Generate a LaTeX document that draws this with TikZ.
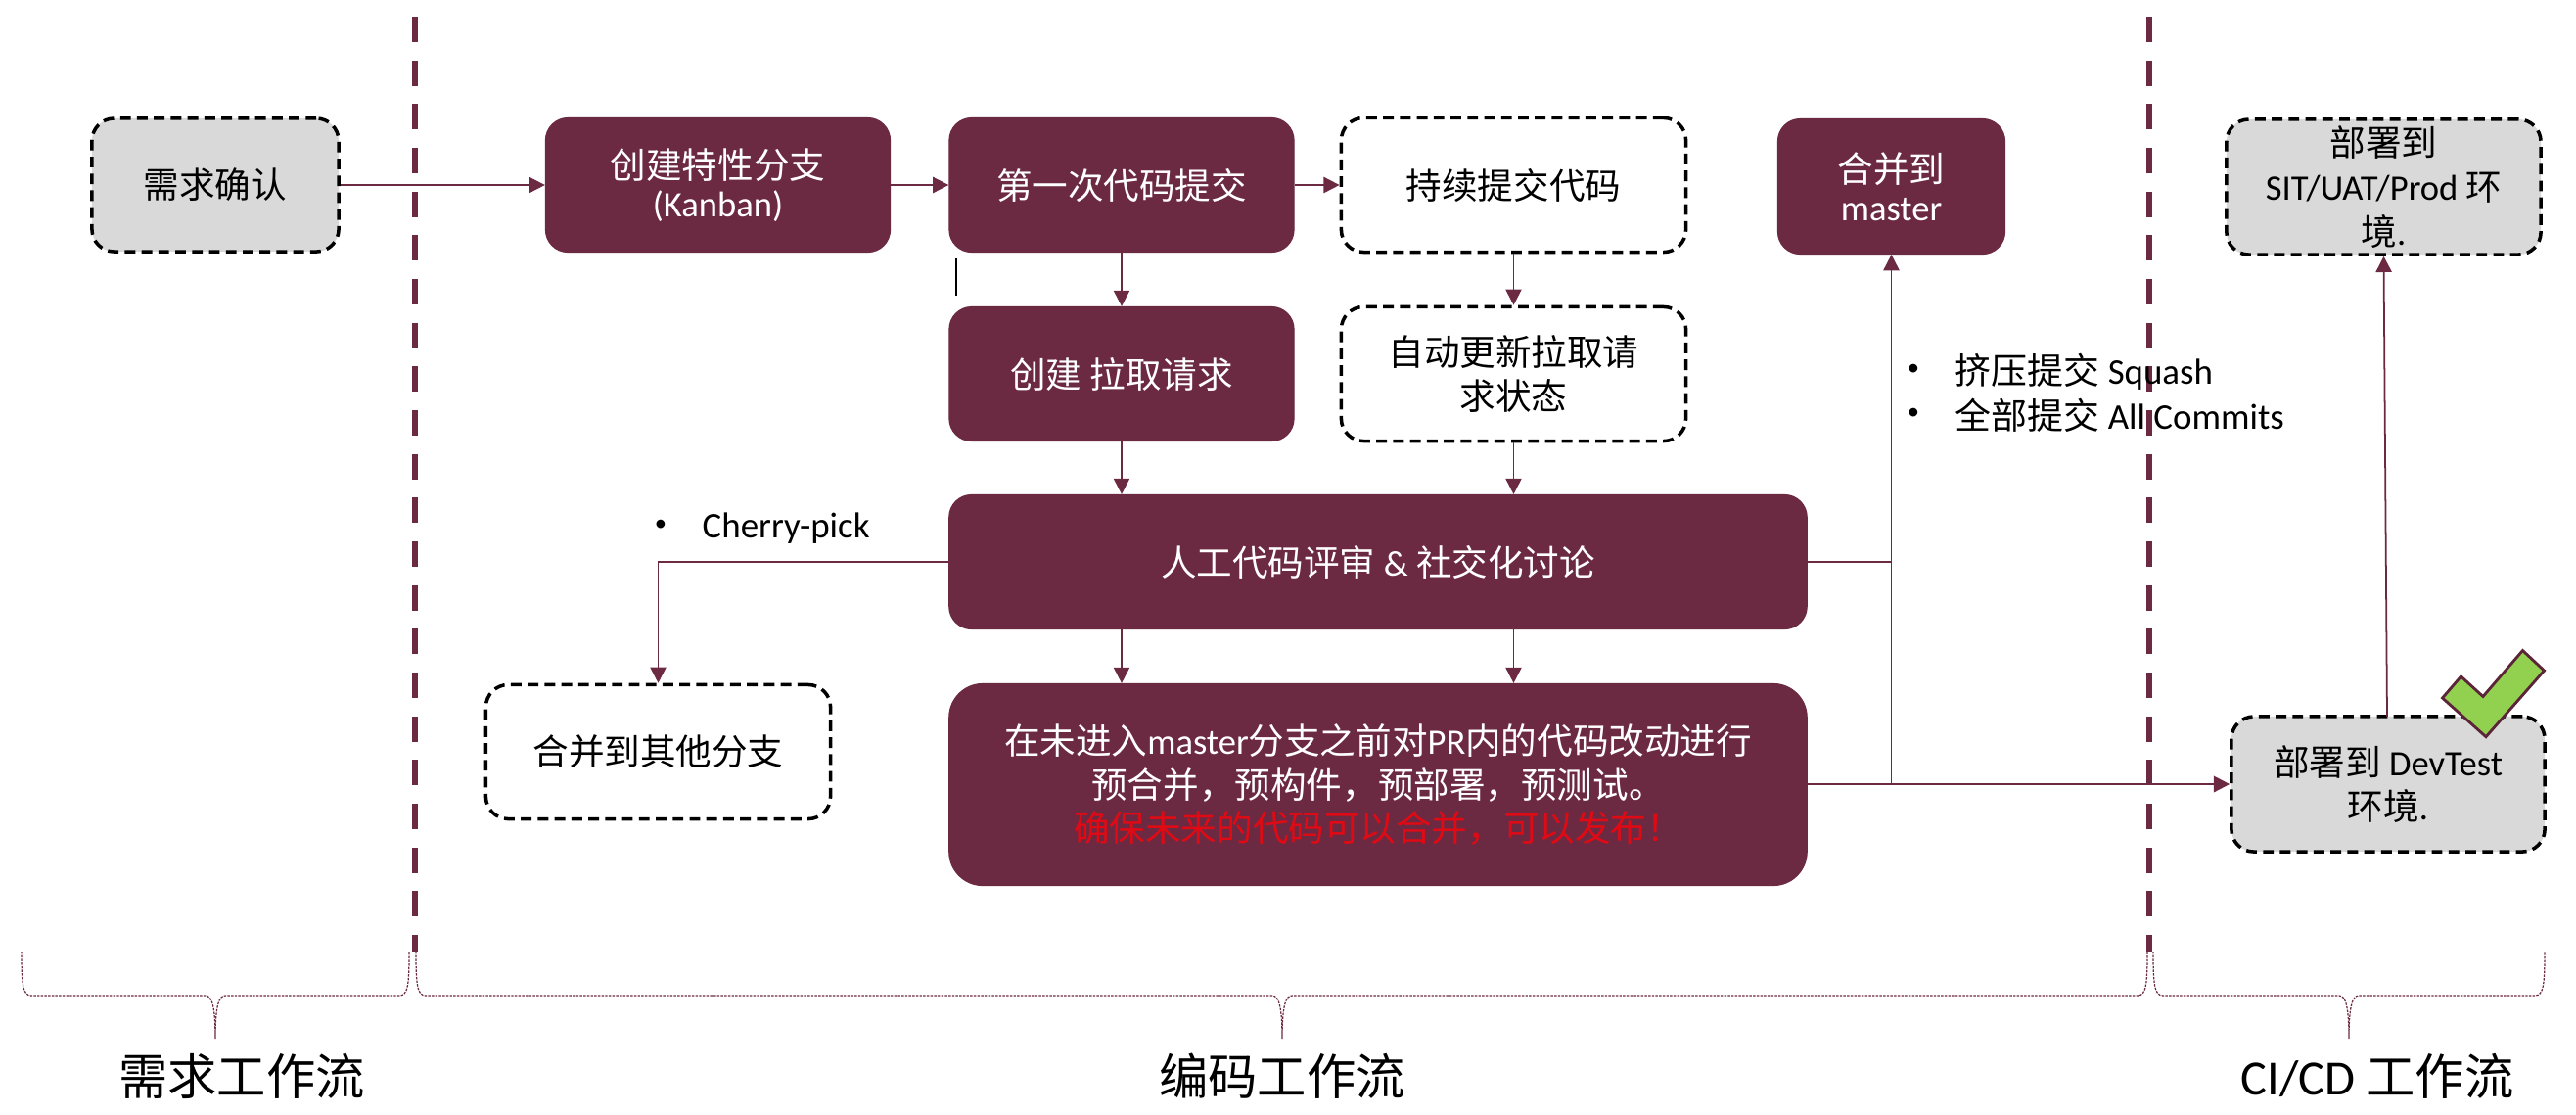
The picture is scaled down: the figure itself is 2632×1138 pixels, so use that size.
\documentclass[tikz,border=0pt]{standalone}
\usepackage{fontspec}
\setmainfont{Carlito}
\newfontfamily\cjk{Noto Sans CJK SC}
\newcommand{\zh}[1]{{\cjk #1}}
\usetikzlibrary{arrows.meta,calc}
\definecolor{maroon}{HTML}{6C2A42}
\definecolor{boxgray}{HTML}{D9D9D9}
\definecolor{checkgreen}{HTML}{92D050}
\definecolor{warnred}{HTML}{E00A14}
\tikzset{
  basebox/.style={rectangle,rounded corners=6.5pt,inner sep=0pt,align=center,font=\fontsize{10.4}{12.6}\selectfont},
  wide/.style={minimum width=3.52cm,minimum height=1.37cm},
  mbox/.style={basebox,fill=maroon,draw=maroon,line width=0.3pt,text=white},
  dbox/.style={basebox,dash pattern=on 3.1pt off 1.8pt,draw=black,line width=1pt,fill=white,text=black},
  gbox/.style={dbox,fill=boxgray},
  conn/.style={draw=maroon,line width=0.5pt},
  arr/.style={conn,-{Triangle[length=4.6pt,width=4.6pt]}},
  divider/.style={draw=maroon,line width=1.9pt,dash pattern=on 7.4pt off 5.3pt},
  bracepath/.style={draw=maroon,line width=0.35pt,dash pattern=on 0.7pt off 0.35pt},
  flowlabel/.style={inner sep=0pt,font=\fontsize{14.3}{16}\selectfont},
  note/.style={inner sep=0pt,anchor=west,font=\fontsize{10.5}{12.6}\selectfont},
  dot/.style={inner sep=0pt,font=\fontsize{7}{8}\selectfont}
}
\newcommand{\bracket}[3]{%
  \draw[bracepath] (#1,972) .. controls (#1,1005) and (#1+1,1017) .. (#1+10,1017)
    -- (#3-10,1017) .. controls (#3-3,1017) and (#3,1030) .. (#3,1061)
    .. controls (#3,1030) and (#3+3,1017) .. (#3+10,1017)
    -- (#2-10,1017) .. controls (#2-1,1017) and (#2,1005) .. (#2,972);}
\begin{document}
\begin{tikzpicture}[x=0.01cm,y=-0.01cm]
\useasboundingbox (0,0) rectangle (2632,1138);
% dividers
\draw[divider] (424,17) -- (424,972);
\draw[divider] (2196,17) -- (2196,972);
% boxes
\node[gbox,minimum width=2.52cm,minimum height=1.36cm] (req) at (220,189) {\zh{需求确认}};
\node[mbox,wide] (feat) at (733.5,189) {\zh{创建特性分支}\\[-1.4pt](Kanban)};
\node[mbox,wide] (first) at (1146,189) {\zh{第一次代码提交}};
\node[dbox,wide] (cont) at (1546.5,189) {\zh{持续提交代码}};
\node[mbox,wide] (pr) at (1146,382) {\zh{创建 拉取请求}};
\node[dbox,wide] (auto) at (1546.5,382) {\zh{自动更新拉取请}\\\zh{求状态}};
\node[mbox,minimum width=8.76cm,minimum height=1.37cm] (review) at (1408,574) {\zh{人工代码评审} \& \zh{社交化讨论}};
\node[mbox,minimum width=8.76cm,minimum height=2.06cm,rounded corners=9.8pt] (pre) at (1408,801.5)
  {\zh{在未进入}master\zh{分支之前对}PR\zh{内的代码改动进行}\\\zh{预合并，预构件，预部署，预测试。}\\\textcolor{warnred}{\zh{确保未来的代码可以合并，可以发布！}}};
\node[dbox,wide] (other) at (672.5,768) {\zh{合并到其他分支}};
\node[mbox,minimum width=2.32cm,minimum height=1.38cm] (master) at (1932.5,190.5) {\zh{合并到}\\[-1.4pt]master};
\node[gbox,minimum width=3.21cm,minimum height=1.38cm,font=\fontsize{10.4}{13.6}\selectfont] (sit) at (2435.5,191) {\zh{部署到}\\[-0.7pt]SIT/UAT/Prod \zh{环}\\[-0.7pt]\zh{境}.};
\node[gbox,minimum width=3.2cm,minimum height=1.38cm] (dev) at (2440,801) {\zh{部署到} DevTest\\\zh{环境}.};
% connectors
\draw[arr] (req) -- (feat);
\draw[arr] (feat) -- (first);
\draw[arr] (first) -- (cont);
\draw[arr] (first) -- (pr);
\draw[arr] (cont) -- (auto);
\draw[arr] (pr.south) -- (pr.south |- review.north);
\draw[arr] (auto.south) -- (auto.south |- review.north);
\draw[arr] (pr.south |- review.south) -- (pr.south |- pre.north);
\draw[arr] (auto.south |- review.south) -- (auto.south |- pre.north);
\draw[arr] (review.west) -| (other.north);
\coordinate (junction) at (master.south |- dev.west);
\draw[conn] (review.east) -- (master.south |- review.east);
\draw[arr] (junction) -- (master.south);
\draw[arr,line width=0.7pt] (pre.east |- dev.west) -- (dev.west);
\coordinate (devtop) at (2439,732);
\draw[arr] (devtop) -- (sit.south);
% stray caret
\draw[black,line width=0.6pt] (977,264) -- (977,302);
% check mark
\draw[draw=maroon!85!black,line width=0.8pt,fill=checkgreen,line join=miter]
  (2577.5,664.5) -- (2599.5,685) -- (2540,752.7) -- (2495.5,713) -- (2514.5,691) -- (2537,711.5) -- cycle;
% notes
\node[dot] (n1b) at (675,537) {•};
\node[note] (n1) at (717,540) {Cherry-pick};
\node[dot] (n2b) at (1955,378) {•};
\node[note] (n2) at (1997,380) {\zh{挤压提交} Squash};
\node[dot] (n3b) at (1955,423) {•};
\node[note] (n3) at (1997,424) {\zh{全部提交} All Commits};
% brackets
\bracket{22}{418}{220}
\bracket{425}{2194}{1310}
\bracket{2200}{2600}{2400}
% labels
\node[flowlabel] (l1) at (247,1099) {\zh{需求工作流}};
\node[flowlabel] (l2) at (1310,1099) {\zh{编码工作流}};
\node[flowlabel] (l3) at (2429,1099) {CI/CD \zh{工作流}};
\end{tikzpicture}
\end{document}
